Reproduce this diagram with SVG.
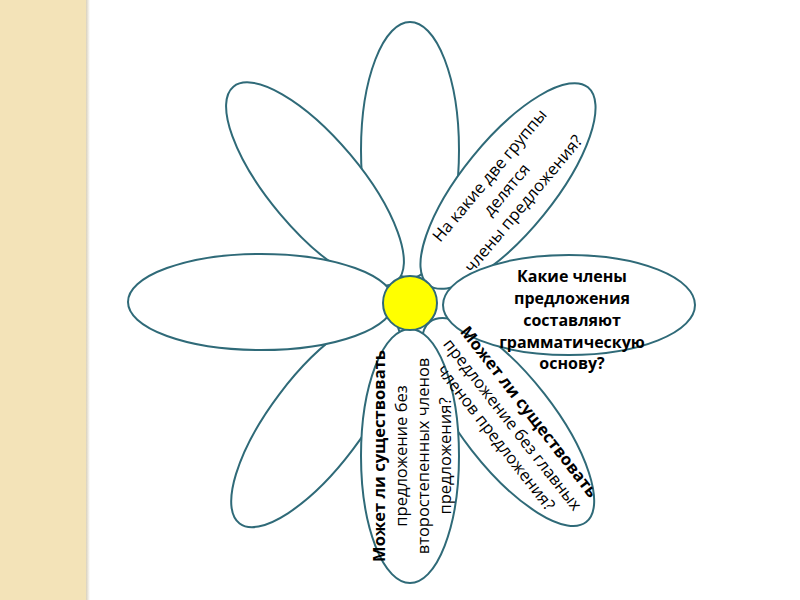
<svg xmlns="http://www.w3.org/2000/svg" width="800" height="600" viewBox="0 0 800 600">
  <defs>
    <linearGradient id="edge" x1="0" y1="0" x2="1" y2="0">
      <stop offset="0" stop-color="#d8d0bc"/>
      <stop offset="1" stop-color="#ffffff"/>
    </linearGradient>
  </defs>
  <style>
    .petal { fill: #ffffff; stroke: #2f6a78; stroke-width: 2; }
    .core { fill: #ffff00; stroke: #2f6a78; stroke-width: 2; }
    .t { font-family: "Open Sans", "Noto Sans", "DejaVu Sans", sans-serif; font-size: 16.5px; fill: #000000; text-anchor: middle; }
    .r { font-size: 16px; font-weight: bold; }
    .b { font-weight: bold; }
  </style>
  <rect x="0" y="0" width="800" height="600" fill="#ffffff"/>
  <rect x="0" y="0" width="86" height="600" fill="#f3e3b8"/>
  <rect x="86" y="0" width="4" height="600" fill="url(#edge)"/>

  <g id="petal-top"><ellipse class="petal" cx="410" cy="150" rx="49" ry="128"/></g>
  <g id="petal-upper-left"><ellipse class="petal" cx="315" cy="184" rx="127" ry="46" transform="rotate(50 315 184)"/></g>
  <g id="petal-upper-right">
    <ellipse class="petal" cx="508" cy="186" rx="127" ry="46" transform="rotate(-51 508 186)"/>
  </g>
  <g id="petal-lower-left"><ellipse class="petal" cx="316" cy="422" rx="127" ry="46" transform="rotate(-53 316 422)"/></g>
  <g id="petal-left"><ellipse class="petal" cx="261" cy="302" rx="133" ry="48"/></g>
  <g id="petal-lower-right">
    <ellipse class="petal" cx="508" cy="422" rx="127" ry="46" transform="rotate(52 508 422)"/>
  </g>
  <g id="petal-bottom">
    <ellipse class="petal" cx="410" cy="456" rx="49" ry="127"/>
    <g transform="translate(0 456) rotate(-90)">
      <text class="t b" x="0" y="385">Может ли существовать</text>
      <text class="t" x="0" y="407">предложение без</text>
      <text class="t" x="0" y="429">второстепенных членов</text>
      <text class="t" x="0" y="451">предложения?</text>
    </g>
  </g>
  <g id="petal-right">
    <ellipse class="petal" cx="569" cy="305" rx="126" ry="50"/>
  </g>
  <g id="center"><circle class="core" cx="410" cy="303" r="27"/></g>

  <g id="labels">
    <g transform="translate(507 190) rotate(-50)">
      <text class="t" x="0" y="-17">На какие две группы</text>
      <text class="t" x="0" y="5">делятся</text>
      <text class="t" x="0" y="27">члены предложения?</text>
    </g>
    <g transform="translate(512 425) rotate(52)">
      <text class="t b" x="0" y="-16">Может ли существовать</text>
      <text class="t" x="0" y="5">предложение без главных</text>
      <text class="t" x="0" y="26">членов предложения?</text>
    </g>
    <g>
      <text class="t r" x="572" y="282">Какие члены</text>
      <text class="t r" x="572" y="304">предложения</text>
      <text class="t r" x="572" y="326">составляют</text>
      <text class="t r" x="572" y="348">грамматическую</text>
      <text class="t r" x="572" y="369">основу?</text>
    </g>
  </g>
</svg>
